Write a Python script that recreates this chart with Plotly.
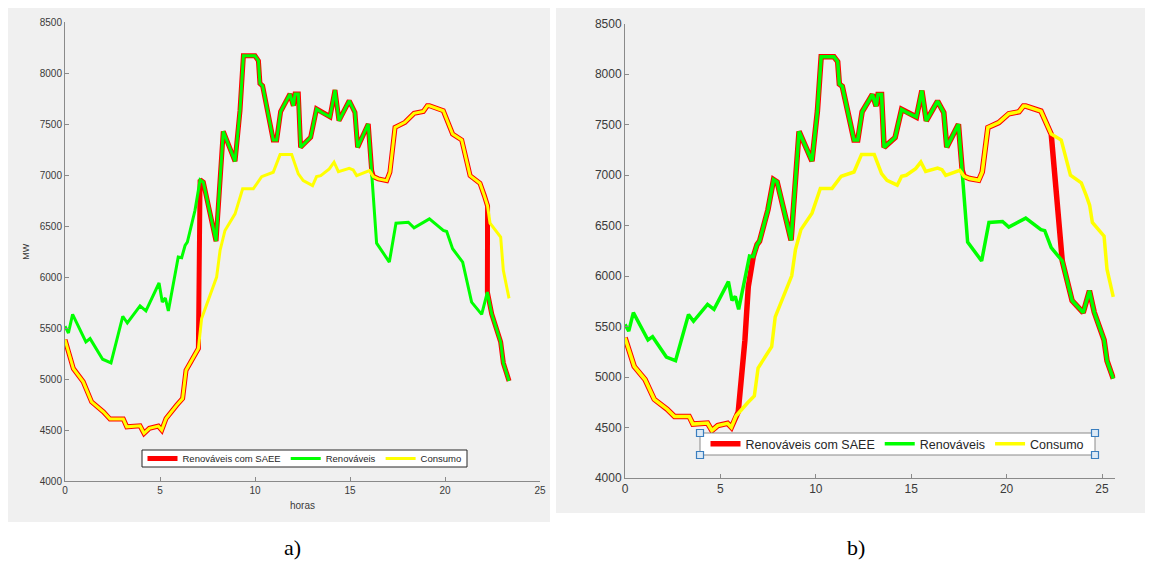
import plotly.graph_objects as go

# ---------------- data ----------------
# Renováveis (MW) vs hours
REN_T = [0.00, 0.18, 0.40, 1.10, 1.32, 1.98, 2.42, 3.04, 3.28, 3.95, 4.26, 4.95, 5.12, 5.28, 5.44,
         5.96, 6.14, 6.32, 6.44, 6.84, 7.11, 7.28, 7.95, 8.33, 8.95, 9.21, 9.39, 10.00, 10.18, 10.26,
         10.40, 10.96, 11.14, 11.35, 11.84, 12.02, 12.11, 12.28, 12.40, 12.93, 13.24, 13.51, 13.95,
         14.21, 14.42, 14.96, 15.26, 15.40, 15.96, 16.14, 16.40, 17.07, 17.42, 18.07, 18.37, 19.18,
         19.91, 20.09, 20.40, 20.93, 21.40, 21.93, 22.23, 22.46, 22.93, 23.07, 23.37]
REN_V = [5520, 5454, 5637, 5366, 5399, 5197, 5161, 5618, 5552, 5719, 5670, 5944, 5758, 5797, 5670,
         6198, 6192, 6312, 6345, 6655, 6955, 6932, 6354, 7431, 7137, 7633, 8171, 8171, 8122, 7900,
         7878, 7346, 7346, 7626, 7797, 7682, 7797, 7797, 7274, 7372, 7650, 7617, 7574,
         7836, 7535, 7731, 7617, 7274, 7503, 7046, 6335, 6149, 6530, 6540, 6485, 6573,
         6459, 6449, 6280, 6149, 5757, 5637, 5855, 5640, 5366, 5161, 4984]

# Consumo (MW) vs hours
CON_T = [0.00, 0.18, 0.44, 0.96, 1.40, 2.02, 2.37, 3.07, 3.25, 3.95, 4.16, 4.44, 4.91, 5.09, 5.32,
         5.88, 6.19, 6.37, 6.75, 7.02, 7.19, 7.54, 7.98, 8.16, 8.42, 8.95, 9.12, 9.35, 9.91, 10.35,
         10.96, 11.32, 11.93, 12.28, 12.54, 13.03, 13.24, 13.46, 13.91, 14.16, 14.39, 14.96, 15.17,
         15.35, 16.02, 16.23, 16.49, 16.93, 17.10, 17.37, 17.89, 18.37, 18.86, 19.07, 19.18, 19.91,
         20.40, 20.88, 21.32, 21.84, 22.07, 22.24, 22.37, 22.93, 23.07, 23.37]
CON_V = [5389, 5268, 5105, 4975, 4779, 4681, 4610, 4610, 4534, 4544, 4470, 4519, 4541, 4502, 4616,
         4747, 4812, 5089, 5219, 5301, 5595, 5774, 6002, 6263, 6459, 6622, 6736, 6867, 6867, 6987,
         7030, 7203, 7203, 7014, 6948, 6899, 6987, 6997, 7063, 7128, 7036, 7069, 7053,
         6997, 7046, 6987, 6965, 6948, 7030, 7470, 7519, 7607, 7626, 7682, 7682, 7633,
         7405, 7346, 6997, 6922, 6801, 6700, 6530, 6394, 6068, 5793]

# Renováveis com SAEE: which source it follows in each time window
SAEE_A_WINDOWS = [("con", 0.0, 7.05), ("ren", 7.05, 16.15), ("con", 16.15, 22.24), ("ren", 22.23, 24.0)]
SAEE_B_WINDOWS = [("con", 0.0, 5.35), ("ramp1", None, None), ("ren", 6.10, 16.15),
                  ("con", 16.15, 20.41), ("ren", 20.90, 24.0)]
SAEE_B_RAMP1_T = [5.42, 5.74, 5.90]
SAEE_B_RAMP1_V = [4656, 5365, 5892]

B_TIME_STRETCH = 1.095  # panel b data drawn slightly stretched along x in the original

X_TICKS = [0, 5, 10, 15, 20, 25]
Y_TICKS = [4000, 4500, 5000, 5500, 6000, 6500, 7000, 7500, 8000, 8500]

NAMES = ["Renováveis com SAEE", "Renováveis", "Consumo"]
COLORS = ["#ff0000", "#00ff00", "#ffff00"]

SRC = {"con": (CON_T, CON_V), "ren": (REN_T, REN_V), "ramp1": (SAEE_B_RAMP1_T, SAEE_B_RAMP1_V)}


def build(windows):
    xs, ys = [], []
    for src, a, b in windows:
        t, v = SRC[src]
        for ti, vi in zip(t, v):
            if a is None or (a <= ti <= b):
                xs.append(ti)
                ys.append(vi)
    return xs, ys


# page is 1153x577; the html body adds an 8px margin, so the figure itself is smaller
OFF = 8
W, H = 1153 - 2 * OFF, 577 - 2 * OFF


def fx(p):  # page pixel -> paper fraction
    return (p - OFF) / W


def fy(p):
    return 1 - (p - OFF) / H


fig = go.Figure()

panels = [
    dict(xa="x", ya="y", leg="legend", win=SAEE_A_WINDOWS, k=1.0, wr=5, wl=3),
    dict(xa="x2", ya="y2", leg="legend2", win=SAEE_B_WINDOWS, k=B_TIME_STRETCH, wr=5.5, wl=3.5),
]

for p in panels:
    rx, ry = build(p["win"])
    series = [(rx, ry), (REN_T, REN_V), (CON_T, CON_V)]
    for i, (sx, sy) in enumerate(series):
        fig.add_trace(go.Scatter(
            x=[t * p["k"] for t in sx], y=sy, mode="lines", name=NAMES[i],
            line=dict(color=COLORS[i], width=p["wr"] if i == 0 else p["wl"]),
            xaxis=p["xa"], yaxis=p["ya"], legend=p["leg"], hoverinfo="skip",
        ))

axis_common = dict(showgrid=False, zeroline=False, showline=True, linecolor="#8a8a8a", linewidth=1,
                   ticks="inside", ticklen=4, tickcolor="#8a8a8a", mirror=False, automargin=False)

B_XMAX = 25.7
LEG_A = (142, 467, 450, 467)   # box in page px: x0, x1, y0, y1
LEG_B = (700, 1095, 433, 455)

fig.update_layout(
    width=W, height=H, margin=dict(l=0, r=0, t=0, b=0, pad=0, autoexpand=False),
    paper_bgcolor="white", plot_bgcolor="white",
    font=dict(family="Liberation Sans, Arial, sans-serif", color="#3a3a3a"),
    xaxis=dict(domain=[fx(65), fx(540)], range=[0, 25], tickvals=X_TICKS, anchor="y",
               tickfont=dict(size=10), title=dict(text="horas", font=dict(size=10), standoff=6),
               **axis_common),
    yaxis=dict(domain=[fy(481.3), fy(22.3)], range=[4000, 8500], tickvals=Y_TICKS, anchor="x",
               tickfont=dict(size=10), title=dict(text="MW", font=dict(size=9), standoff=8),
               **axis_common),
    xaxis2=dict(domain=[fx(625), fx(625 + B_XMAX * 19.08)], range=[0, B_XMAX], tickvals=X_TICKS,
                anchor="y2", tickfont=dict(size=12), **axis_common),
    yaxis2=dict(domain=[fy(478), fy(23.5)], range=[4000, 8500], tickvals=Y_TICKS, anchor="x2",
                tickfont=dict(size=12), **axis_common),
    legend=dict(x=fx((LEG_A[0] + LEG_A[1]) / 2), y=fy((LEG_A[2] + LEG_A[3]) / 2),
                xanchor="center", yanchor="middle", orientation="h",
                bgcolor="rgba(0,0,0,0)", borderwidth=0,
                font=dict(size=9.5, color="#262626"), itemwidth=30, tracegroupgap=0),
    legend2=dict(x=fx((LEG_B[0] + LEG_B[1]) / 2), y=fy((LEG_B[2] + LEG_B[3]) / 2),
                 xanchor="center", yanchor="middle", orientation="h",
                 bgcolor="rgba(0,0,0,0)", borderwidth=0,
                 font=dict(size=12.5, color="#262626"), itemwidth=30, tracegroupgap=0),
    showlegend=True,
)

shapes = [
    dict(type="rect", xref="paper", yref="paper", x0=fx(8), x1=fx(550), y0=fy(522), y1=fy(8),
         fillcolor="#f0f0f0", line=dict(width=0), layer="below"),
    dict(type="rect", xref="paper", yref="paper", x0=fx(556), x1=fx(1145), y0=fy(513), y1=fy(8),
         fillcolor="#f0f0f0", line=dict(width=0), layer="below"),
    # legend boxes
    dict(type="rect", xref="paper", yref="paper", x0=fx(LEG_A[0]), x1=fx(LEG_A[1]),
         y0=fy(LEG_A[3]), y1=fy(LEG_A[2]), fillcolor="white",
         line=dict(color="#262626", width=1), layer="above"),
    dict(type="rect", xref="paper", yref="paper", x0=fx(LEG_B[0]), x1=fx(LEG_B[1]),
         y0=fy(LEG_B[3]), y1=fy(LEG_B[2]), fillcolor="white",
         line=dict(color="#8a8a8a", width=1), layer="above"),
]
# selection handles around legend of panel b
for hx in (LEG_B[0], LEG_B[1]):
    for hy in (LEG_B[2], LEG_B[3]):
        shapes.append(dict(type="rect", xref="paper", yref="paper",
                           x0=fx(hx - 3.5), x1=fx(hx + 3.5), y0=fy(hy + 3.5), y1=fy(hy - 3.5),
                           fillcolor="#dce9f5", line=dict(color="#3a7ebf", width=1.2), layer="above"))
fig.update_layout(shapes=shapes)

fig.add_annotation(x=fx(282), y=fy(562), xref="paper", yref="paper", text="a)", showarrow=False,
                   font=dict(family="Liberation Serif, Times New Roman, serif", size=22, color="black"))
fig.add_annotation(x=fx(867), y=fy(562), xref="paper", yref="paper", text="b)", showarrow=False,
                   font=dict(family="Liberation Serif, Times New Roman, serif", size=22, color="black"))

fig.write_html("out.html")
